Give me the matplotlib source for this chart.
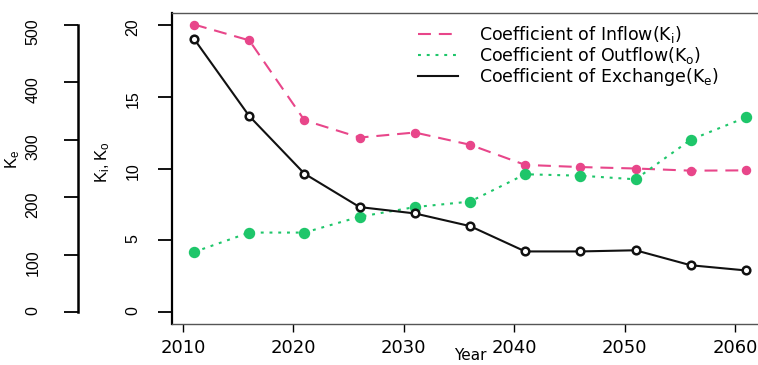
import matplotlib.pyplot as plt
from matplotlib.lines import Line2D

# data
years = [2011, 2016, 2021, 2026, 2031, 2036, 2041, 2046, 2051, 2056, 2061]
k_in = [20.0, 18.9, 13.35, 12.15, 12.5, 11.65, 10.25, 10.1, 10.0, 9.85, 9.87]
k_out = [4.2, 5.55, 5.55, 6.65, 7.32, 7.7, 9.6, 9.5, 9.25, 12.0, 13.55]
k_ex = [475, 341, 241, 183, 172, 150, 106, 106, 108, 82, 73]

x_ticks = [2010, 2020, 2030, 2040, 2050, 2060]
kio_ticks = [0, 5, 10, 15, 20]
ke_ticks = [0, 100, 200, 300, 400, 500]

pink = "#E8468A"
green = "#1EC66A"
vfont = "Liberation Sans"

plt.rcParams["font.family"] = "DejaVu Sans"

fig = plt.figure(figsize=(7.58, 3.65), dpi=100)
ax = fig.add_axes([172/758, 1-324/365, 596/758, 311/365])

#Ki and Ko on the inner axis
ax.plot(years, k_in, color=pink, lw=1.5, dashes=(6.2, 3.8),
        marker="o", ms=5.8, mec=pink, mfc=pink)
ax.plot(years, k_out, color=green, lw=1.5, dashes=(1.4, 2.8),
        marker="o", ms=7.2, mec=green, mfc=green)
ax.set_xlim(2009, 2063)
ax.set_ylim(-0.8, 20.8)
ax.set_xticks(x_ticks)
ax.set_yticks(kio_ticks)
ax.tick_params(axis="x", length=5.8, width=1, pad=5, labelsize=13)
ax.tick_params(axis="y", length=10, width=1.3, pad=12.5, labelrotation=90)
for lbl in ax.get_yticklabels():
    lbl.set_fontfamily(vfont)
    lbl.set_fontsize(11.5)
for s in ["top", "right", "bottom"]:
    ax.spines[s].set_linewidth(1)
    ax.spines[s].set_color("#555555")
ax.spines["left"].set_linewidth(1.6)
ax.set_xlabel("Year", fontsize=11)
ax.xaxis.set_label_coords(0.5, -0.078)
ax.set_ylabel(r"$\mathregular{K_i,K_o}$", fontfamily=vfont, fontsize=12)
ax.yaxis.set_label_coords(-0.10, 0.52)

#Ke on its own outer axis
ax2 = ax.twinx()
ax2.plot(years, k_ex, color="#111111", lw=1.5,
         marker="o", ms=5.5, mec="#111111", mfc="white", mew=1.8)
ax2.set_ylim(-20, 520)
ax2.yaxis.set_ticks_position("left")
ax2.yaxis.set_label_position("left")
for s in ["top", "right", "bottom"]:
    ax2.spines[s].set_visible(False)
ax2.spines["left"].set_visible(True)
ax2.spines["left"].set_position(("axes", -94/596))
ax2.spines["left"].set_bounds(0, 500)
ax2.spines["left"].set_linewidth(1.8)
ax2.set_yticks(ke_ticks)
ax2.tick_params(axis="y", length=10, width=1.3, pad=17, labelrotation=90)
for lbl in ax2.get_yticklabels():
    lbl.set_fontfamily(vfont)
    lbl.set_fontsize(11.5)
ax2.set_ylabel(r"$\mathregular{K_e}$", fontfamily=vfont, fontsize=12)
ax2.yaxis.set_label_coords(-0.252, 0.53)

handles = [Line2D([], [], color=pink, lw=1.5, dashes=(6.2, 3.8)),
           Line2D([], [], color=green, lw=1.5, dashes=(1.4, 2.8)),
           Line2D([], [], color="#111111", lw=1.5)]
labels = [r"Coefficient of Inflow($\mathregular{K_i}$)",
          r"Coefficient of Outflow($\mathregular{K_o}$)",
          r"Coefficient of Exchange($\mathregular{K_e}$)"]
ax2.legend(handles, labels, loc="upper left", frameon=False,
           bbox_to_anchor=(418/758, 1-24/365), bbox_transform=fig.transFigure,
           borderpad=0, borderaxespad=0, handlelength=2.3, handletextpad=1.2,
           labelspacing=0, fontsize=12.5)

plt.savefig("out.png")
